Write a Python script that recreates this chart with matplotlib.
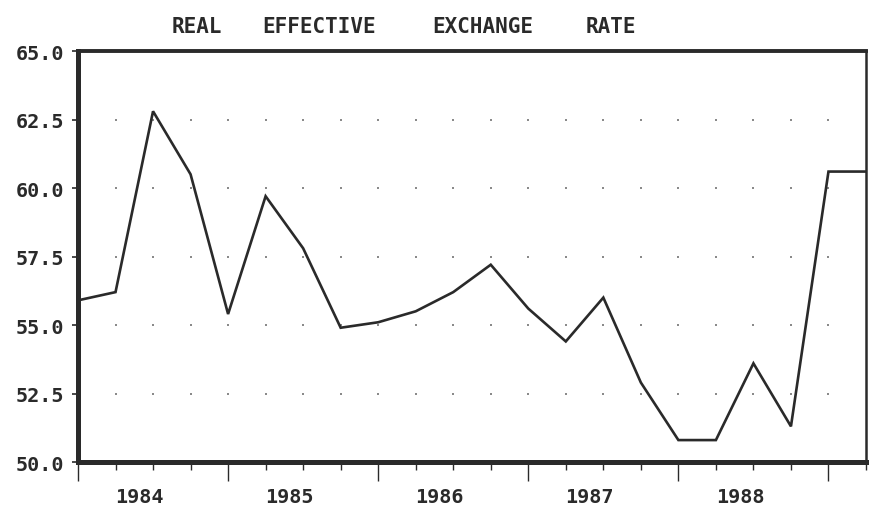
import matplotlib
matplotlib.use("Agg")
import matplotlib.pyplot as plt
import numpy as np

# quarterly real effective exchange rate, 1983Q4 .. 1989Q1
rate = [55.9, 56.2, 62.8, 60.5, 55.4, 59.7, 57.8, 54.9, 55.1, 55.5, 56.2,
        57.2, 55.6, 54.4, 56.0, 52.9, 50.8, 50.8, 53.6, 51.3, 60.6, 60.6]
years = [1984, 1985, 1986, 1987, 1988]
yticks = [50.0, 52.5, 55.0, 57.5, 60.0, 62.5, 65.0]
title_words = ["REAL", "EFFECTIVE", "EXCHANGE", "RATE"]
title_x = [172, 262, 432, 586]  # pixel positions of each word

t = 1983.75 + 0.25 * np.arange(len(rate))
ink = "#2a2a2a"
mono = "DejaVu Sans Mono"

fig = plt.figure(figsize=(8.69, 5.06), dpi=100)
ax = fig.add_axes([78 / 869, 1 - 463 / 506, 788 / 869, 411 / 506])

# dotted grid: one dot per quarter / per 2.5 level
gx, gy = np.meshgrid(t[1:-1], yticks[1:-1])
ax.plot(gx.ravel(), gy.ravel(), ls="none", marker="s", ms=1.5, color="#8a8a8a", mew=0)

ax.plot(t, rate, color=ink, lw=1.9, solid_joinstyle="miter")

ax.set_xlim(t[0], t[-1])
ax.set_ylim(50, 65)

# spines: heavy left/bottom, lighter top/right
for side, w in [("left", 3.6), ("bottom", 3.6), ("top", 2.8), ("right", 1.8)]:
    ax.spines[side].set_linewidth(w)
    ax.spines[side].set_color(ink)

ax.set_yticks(yticks)
ax.set_yticklabels([f"{v:.1f}" for v in yticks], family=mono, fontweight="bold",
                   fontsize=14.5, color=ink)
ax.tick_params(axis="y", direction="out", length=4, width=1.2, color=ink, pad=6)

# long ticks every year boundary, short ticks every quarter
ax.set_xticks(t[::4])
ax.set_xticks([v for k, v in enumerate(t) if k % 4], minor=True)
ax.tick_params(axis="x", which="major", direction="out", length=14, width=1.0,
               color=ink, labelbottom=False)
ax.tick_params(axis="x", which="minor", direction="out", length=6, width=1.0,
               color=ink)

for yr in years:
    ax.annotate(str(yr), xy=(yr + 0.16, 0), xycoords=("data", "axes fraction"),
                xytext=(0, -24.5), textcoords="offset points", ha="center", va="center",
                family=mono, fontweight="bold", fontsize=14.5, color=ink)

for word, px in zip(title_words, title_x):
    fig.text(px / 869, 1 - 27 / 506, word, ha="left", va="center", family=mono,
             fontweight="bold", fontsize=15, color=ink)

fig.savefig("out.png", dpi=100, facecolor="white")
